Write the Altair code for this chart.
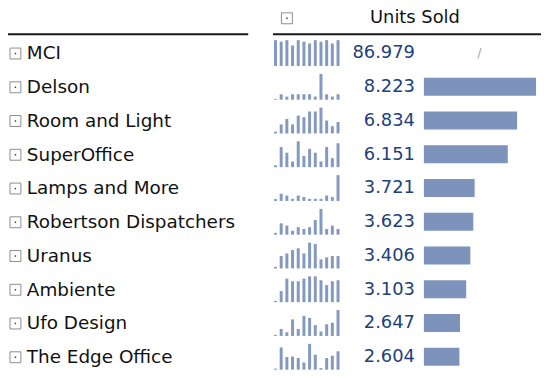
import altair as alt
import pandas as pd

companies = ["MCI", "Delson", "Room and Light", "SuperOffice", "Lamps and More",
             "Robertson Dispatchers", "Uranus", "Ambiente", "Ufo Design", "The Edge Office"]
units = [86.979, 8.223, 6.834, 6.151, 3.721, 3.623, 3.406, 3.103, 2.647, 2.604]
months = list(range(1, 13))

spark_mci = [100, 94, 100, 79, 100, 94, 87, 100, 94, 100, 87, 100]
spark_delson = [3, 21, 12, 21, 21, 21, 21, 12, 100, 21, 12, 21]
spark_room = [7, 35, 56, 35, 69, 63, 85, 85, 100, 50, 28, 44]
spark_super = [7, 78, 56, 22, 100, 44, 71, 56, 22, 78, 35, 93]
spark_lamps = [7, 28, 21, 8, 21, 15, 8, 8, 8, 21, 15, 100]
spark_robertson = [7, 44, 35, 15, 29, 22, 29, 57, 100, 22, 35, 22]
spark_uranus = [6, 48, 58, 71, 78, 58, 100, 95, 35, 43, 48, 48]
spark_ambiente = [5, 43, 91, 81, 81, 91, 100, 100, 85, 66, 81, 85]
spark_ufo = [4, 27, 14, 64, 27, 78, 70, 42, 17, 45, 51, 100]
spark_edge = [4, 86, 49, 51, 45, 28, 100, 58, 6, 45, 54, 71]

sparks = [spark_mci, spark_delson, spark_room, spark_super, spark_lamps,
          spark_robertson, spark_uranus, spark_ambiente, spark_ufo, spark_edge]

rows = []
for c, u, s in zip(companies, units, sparks):
    for m, h in zip(months, s):
        rows.append({"company": c, "units": u, "month": m, "h": h})
df = pd.DataFrame(rows)

FONT = "DejaVu Sans"
BAR = "#7d93bb"
VAL = "#203f7c"

base = alt.Chart()
first = "datum.month == 1"

spark = base.mark_bar(color="#8399c1").encode(
    x=alt.X("month:O", scale=alt.Scale(type="band", range=[276, 342], paddingInner=0.476, paddingOuter=0), axis=None),
    y=alt.Y("h:Q", scale=alt.Scale(domain=[0, 100], range=[30, 4]), axis=None),
)

bars = base.mark_rect(color=BAR).encode(
    x=alt.X("units:Q", scale=alt.Scale(domain=[0, units[1]], range=[427, 540]), axis=None),
    x2=alt.datum(0),
    y=alt.value(8), y2=alt.value(26),
).transform_filter(f"{first} && datum.company != '{companies[0]}'")

vals = base.mark_text(align="right", baseline="middle", fontSize=18, font=FONT, color=VAL).encode(
    x=alt.value(418), y=alt.value(17.5), text=alt.Text("units:Q", format=".3f")
).transform_filter(first)

names = base.mark_text(align="left", baseline="middle", fontSize=18.5, font=FONT, color="#111111").encode(
    x=alt.value(27), y=alt.value(17.5), text="company:N"
).transform_filter(first)

box = base.mark_point(shape="square", size=121, fill="white", stroke="#8c8c8c", strokeWidth=1, opacity=1).encode(
    x=alt.value(15.5), y=alt.value(17.5)
).transform_filter(first)

dot = base.mark_point(shape="square", size=2, filled=True, color="#333333", opacity=1).encode(
    x=alt.value(15.5), y=alt.value(17.5)
).transform_filter(first)

slash = base.mark_text(text="/", fontSize=13, font=FONT, color="#a8a8a8").encode(
    x=alt.value(483), y=alt.value(17)
).transform_filter(f"{first} && datum.company == '{companies[0]}'")

cell = alt.layer(spark, bars, vals, names, box, dot, slash, data=df).resolve_scale(
    x="independent", y="independent"
).properties(width=545, height=34)

table = cell.facet(
    row=alt.Row("company:N", sort=companies, header=None), spacing=0
)

hdf = pd.DataFrame({"label": ["Units Sold"]})
hbase = alt.Chart(hdf)
htext = hbase.mark_text(align="center", baseline="middle", fontSize=18, font=FONT, color="#111111").encode(
    x=alt.value(418), y=alt.value(17), text="label:N"
)
hbox = hbase.mark_point(shape="square", size=121, fill="white", stroke="#8c8c8c", strokeWidth=1, opacity=1).encode(
    x=alt.value(289), y=alt.value(17)
)
hdot = hbase.mark_point(shape="square", size=2, filled=True, color="#333333", opacity=1).encode(
    x=alt.value(289), y=alt.value(17)
)
rule1 = hbase.mark_rule(color="#1a1a1a", strokeWidth=2).encode(
    x=alt.value(3), x2=alt.value(250), y=alt.value(33)
)
rule2 = hbase.mark_rule(color="#1a1a1a", strokeWidth=2).encode(
    x=alt.value(275), x2=alt.value(545), y=alt.value(33)
)
header = alt.layer(htext, hbox, hdot, rule1, rule2).properties(width=545, height=35)

chart = alt.vconcat(header, table, spacing=0).properties(
    padding={"left": -8, "top": -8, "right": 0, "bottom": 0}
).configure_view(stroke=None)

chart.save("out.html", embed_options={"renderer": "svg", "actions": False})
